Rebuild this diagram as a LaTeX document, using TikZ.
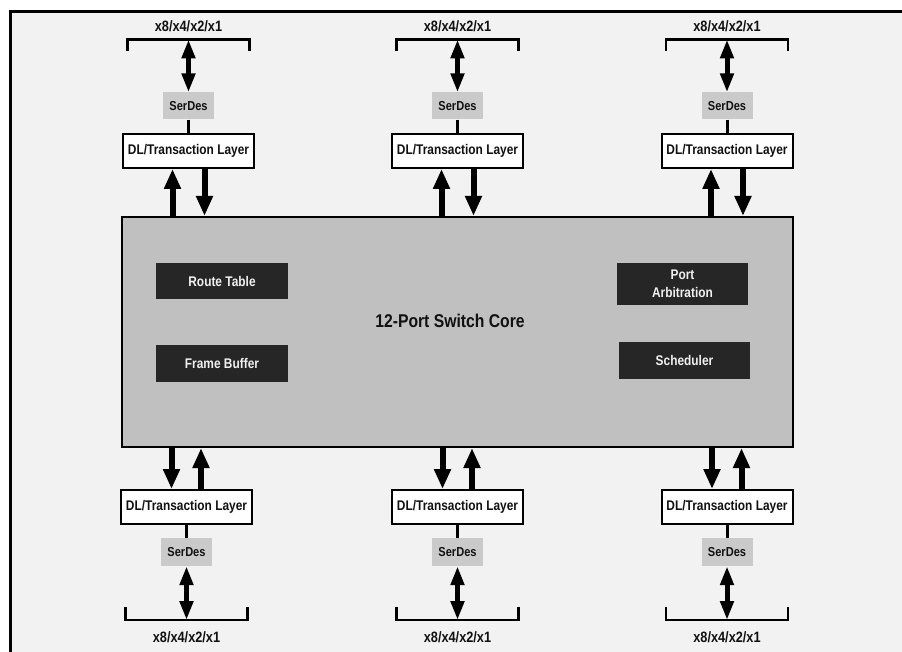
\documentclass[tikz,border=0pt]{standalone}
\usepackage{fontspec}
\setmainfont{Liberation Sans}[FakeStretch=0.85]
\usetikzlibrary{arrows.meta}
\definecolor{bgcol}{HTML}{F2F2F2}
\definecolor{corecol}{HTML}{C0C0C0}
\definecolor{darkcol}{HTML}{262626}
\definecolor{sdcol}{HTML}{CACACA}
\definecolor{inkcol}{HTML}{111111}
\definecolor{lighttext}{HTML}{F0F0F0}
\tikzset{
  corebox/.style={draw=black, line width=2.2pt, fill=corecol, inner sep=0pt, minimum width=671pt, minimum height=230pt},
  darkbox/.style={fill=darkcol, text=lighttext, inner sep=0pt, font=\fontsize{14}{17.7}\selectfont\bfseries, align=center},
  dlbox/.style={draw=black, line width=2pt, fill=white, inner sep=0pt, minimum width=131pt, minimum height=34pt, text=inkcol, font=\fontsize{14}{16}\selectfont\bfseries},
  sdbox/.style={fill=sdcol, inner sep=0pt, minimum width=51pt, minimum height=27pt, text=inkcol, font=\fontsize{13}{15}\selectfont\bfseries},
  portlabel/.style={inner sep=0pt, text=inkcol, font=\fontsize{15}{17}\selectfont\bfseries},
  titlelabel/.style={inner sep=0pt, text=inkcol, font=\fontsize{18.5}{21}\selectfont\bfseries},
  bigarrow/.style={line width=6pt, -{Triangle[width=16pt,length=20pt]}},
  dblarrow/.style={line width=5pt, {Triangle[width=13pt,length=19pt]}-{Triangle[width=13pt,length=19pt]}},
  bracketline/.style={line width=2.3pt, line cap=butt, line join=miter},
  linkline/.style={line width=3pt},
}
\begin{document}
\begin{tikzpicture}[x=1pt,y=-1pt]
\useasboundingbox (0,0) rectangle (902,652);
\fill[bgcol] (10,10) rectangle (902,652);
\draw[line width=3pt, line join=miter] (10.5,652) -- (10.5,11.5) -- (902,11.5);

% core
\node[corebox] (core) at (457.5,332) {};
\node[titlelabel] (title) at (450,321) {12-Port Switch Core};
\node[darkbox, minimum width=132pt, minimum height=36pt] (rt) at (222,281) {Route Table};
\node[darkbox, minimum width=132pt, minimum height=37pt] (fb) at (222,363.5) {Frame Buffer};
\node[darkbox, minimum width=131pt, minimum height=42pt] (pa) at (682.5,284) {Port\\Arbitration};
\node[darkbox, minimum width=131pt, minimum height=37pt] (sch) at (684.5,360.5) {Scheduler};

% top ports
\foreach \i/\cx in {1/188.5, 2/457.5, 3/727}{
  \node[portlabel] (lt\i) at (\cx,26) {x8/x4/x2/x1};
  \coordinate (bt\i) at (\cx,39.5);
  \draw[bracketline] (\cx-61,51) -- (\cx-61,39.5) -- (\cx+61,39.5) -- (\cx+61,51);
  \node[sdbox] (sdt\i) at (\cx,106) {SerDes};
  \node[dlbox] (dlt\i) at (\cx,151) {DL/Transaction Layer};
  \draw[dblarrow] (bt\i) -- (sdt\i.north);
  \draw[linkline] (sdt\i.south) -- (dlt\i.north);
  \coordinate (tu\i) at ([xshift=-16pt]dlt\i.south);
  \coordinate (td\i) at ([xshift=16pt]dlt\i.south);
  \draw[bigarrow] (core.north -| tu\i) -- (tu\i);
  \draw[bigarrow] (td\i) -- (core.north -| td\i);
}

% bottom ports
\foreach \i/\cx in {1/186.5, 2/457.5, 3/727}{
  \node[dlbox] (dlb\i) at (\cx,507) {DL/Transaction Layer};
  \node[sdbox, minimum height=28pt] (sdb\i) at (\cx,552) {SerDes};
  \coordinate (bb\i) at (\cx,620);
  \draw[bracketline] (\cx-61,607) -- (\cx-61,620) -- (\cx+61,620) -- (\cx+61,607);
  \node[portlabel] (lb\i) at (\cx,637) {x8/x4/x2/x1};
  \draw[linkline] (dlb\i.south) -- (sdb\i.north);
  \draw[dblarrow] (sdb\i.south) -- (bb\i);
  \coordinate (bd\i) at ([xshift=-15pt]dlb\i.north);
  \coordinate (bu\i) at ([xshift=14.5pt]dlb\i.north);
  \draw[bigarrow] (core.south -| bd\i) -- (bd\i);
  \draw[bigarrow] (bu\i) -- (core.south -| bu\i);
}
\end{tikzpicture}
\end{document}
